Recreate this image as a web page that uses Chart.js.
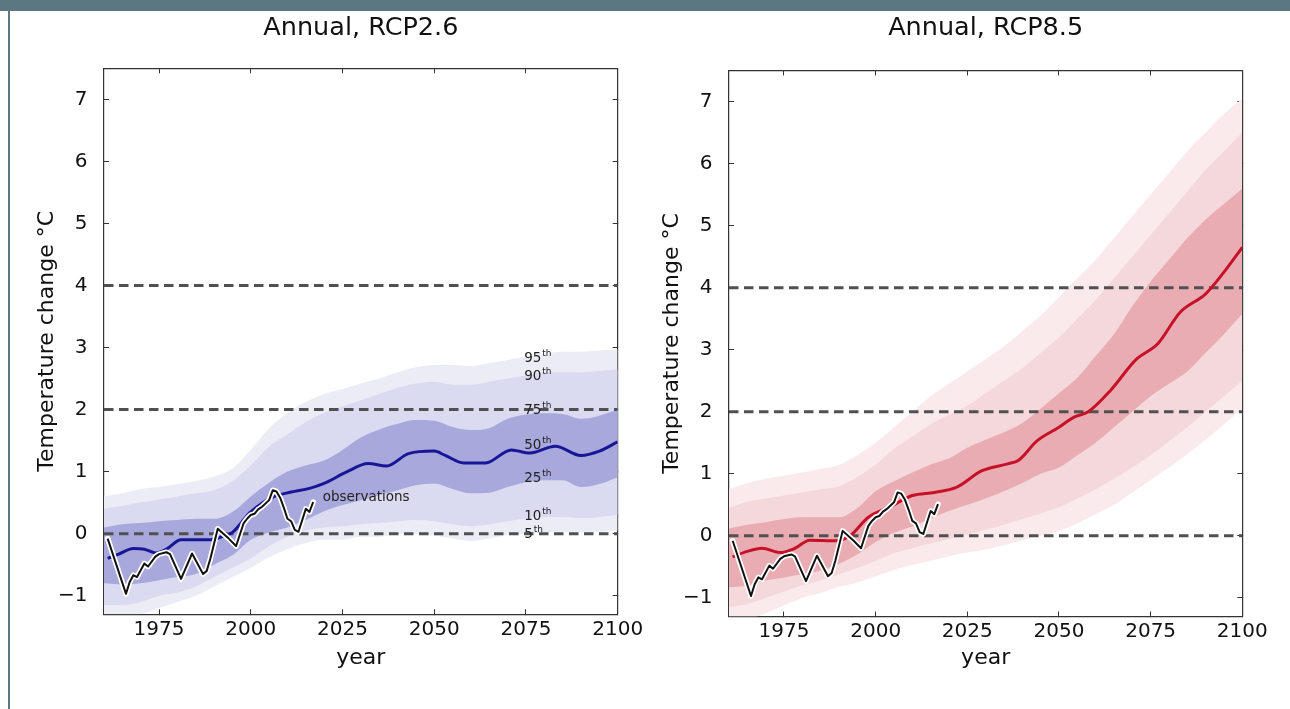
<!DOCTYPE html>
<html>
<head>
<meta charset="utf-8">
<script src="https://cdn.jsdelivr.net/npm/chart.js@4"></script>
<style>
  body { margin: 0; background: #fff; width: 1290px; height: 709px; overflow: hidden; position: relative; }
  #topbar { position: absolute; left: 0; top: 0; width: 1290px; height: 11px; background: #5b7882; }
  #leftbar { position: absolute; left: 8px; top: 0; width: 2px; height: 709px; background: #5b7882; }
  #c1 { position: absolute; left: 10px; top: 11px; }
  #c2 { position: absolute; left: 650px; top: 11px; }
</style>
</head>
<body>
<div id="topbar"></div>
<div id="leftbar"></div>
<canvas id="c1" width="650" height="698"></canvas>
<canvas id="c2" width="640" height="698"></canvas>
<script>
// ---------- Data ----------

const xTicks = [1975, 2000, 2025, 2050, 2075, 2100];
const yTicks = [-1, 0, 1, 2, 3, 4, 5, 6, 7];
const thresholds = [0, 2, 4];

const bandYears = [1960, 1965, 1970, 1975, 1980, 1985, 1990, 1995, 2000, 2005, 2010, 2015, 2020, 2025, 2030,
                   2035, 2040, 2045, 2050, 2055, 2060, 2065, 2070, 2075, 2080, 2085, 2090, 2095, 2100];

// RCP2.6 percentiles
const rcp26P5  = [-1.35, -1.35, -1.3, -1.2, -1.1, -1.0, -0.85, -0.7, -0.55, -0.38, -0.25, -0.15, -0.1, -0.1, -0.05,
                  -0.05, 0.0, 0.0, -0.03, -0.08, -0.12, -0.08, -0.02, 0.0, 0.02, 0.03, 0.02, 0.03, 0.05];
const rcp26P10 = [-1.15, -1.15, -1.1, -1.0, -0.95, -0.85, -0.7, -0.55, -0.4, -0.2, -0.05, 0.05, 0.1, 0.12, 0.15,
                  0.17, 0.2, 0.22, 0.2, 0.15, 0.12, 0.15, 0.2, 0.25, 0.27, 0.27, 0.25, 0.27, 0.3];
const rcp26P25 = [-0.8, -0.82, -0.8, -0.75, -0.7, -0.65, -0.5, -0.35, -0.1, 0.02, 0.1, 0.22, 0.36, 0.46, 0.54,
                  0.62, 0.7, 0.78, 0.81, 0.72, 0.65, 0.66, 0.75, 0.83, 0.86, 0.86, 0.75, 0.8, 0.91];
const rcp26P75 = [0.1, 0.15, 0.17, 0.2, 0.22, 0.24, 0.24, 0.35, 0.6, 0.82, 1.0, 1.1, 1.18, 1.35, 1.55,
                  1.68, 1.77, 1.83, 1.82, 1.72, 1.67, 1.7, 1.85, 1.92, 1.94, 1.93, 1.85, 1.9, 2.0];
const rcp26P90 = [0.4, 0.45, 0.5, 0.55, 0.6, 0.65, 0.7, 0.85, 1.1, 1.4, 1.6, 1.8, 1.95, 2.05, 2.15,
                  2.25, 2.35, 2.42, 2.45, 2.4, 2.4, 2.45, 2.5, 2.55, 2.6, 2.6, 2.6, 2.62, 2.65];
const rcp26P95 = [0.6, 0.65, 0.72, 0.75, 0.8, 0.85, 0.92, 1.05, 1.35, 1.7, 1.95, 2.12, 2.25, 2.33, 2.42,
                  2.5, 2.6, 2.68, 2.72, 2.72, 2.7, 2.75, 2.8, 2.85, 2.9, 2.93, 2.93, 2.95, 2.97];
const rcp26MedYears = [1961, 1964, 1968, 1971, 1974, 1977, 1981, 1985, 1989, 1992, 1995, 2000, 2006, 2011, 2016,
                       2020, 2026, 2032, 2037, 2043, 2050, 2053, 2058, 2064, 2071, 2076, 2083, 2090, 2095, 2100];
const rcp26Median = [-0.4, -0.33, -0.24, -0.25, -0.31, -0.25, -0.1, -0.1, -0.1, -0.05, 0.02, 0.35, 0.59, 0.67, 0.73,
                     0.81, 0.99, 1.13, 1.09, 1.29, 1.33, 1.26, 1.14, 1.14, 1.35, 1.3, 1.41, 1.26, 1.33, 1.48];

// RCP8.5 percentiles
const rcp85P5  = [-1.4, -1.35, -1.25, -1.12, -1.0, -0.92, -0.82, -0.75, -0.65, -0.55, -0.47, -0.4, -0.33, -0.27, -0.22,
                  -0.15, -0.07, 0.0, 0.08, 0.2, 0.35, 0.5, 0.7, 0.9, 1.1, 1.32, 1.55, 1.8, 2.05];
const rcp85P10 = [-1.15, -1.1, -1.0, -0.9, -0.8, -0.72, -0.62, -0.52, -0.4, -0.28, -0.2, -0.12, -0.05, 0.02, 0.1,
                  0.18, 0.27, 0.36, 0.46, 0.6, 0.75, 0.92, 1.1, 1.3, 1.52, 1.75, 2.0, 2.25, 2.5];
const rcp85P25 = [-0.83, -0.8, -0.72, -0.67, -0.62, -0.56, -0.45, -0.3, -0.1, 0.05, 0.15, 0.28, 0.4, 0.5, 0.6,
                  0.72, 0.85, 1.0, 1.1, 1.3, 1.5, 1.75, 2.0, 2.25, 2.45, 2.65, 2.95, 3.25, 3.58];
const rcp85P75 = [0.12, 0.18, 0.22, 0.27, 0.3, 0.3, 0.3, 0.45, 0.72, 0.88, 1.02, 1.15, 1.25, 1.42, 1.55,
                  1.67, 1.82, 2.05, 2.3, 2.55, 2.9, 3.25, 3.7, 4.1, 4.45, 4.8, 5.1, 5.35, 5.6];
const rcp85P90 = [0.45, 0.55, 0.6, 0.65, 0.7, 0.75, 0.8, 0.95, 1.15, 1.4, 1.6, 1.8, 1.95, 2.1, 2.3,
                  2.5, 2.7, 2.95, 3.2, 3.5, 3.8, 4.15, 4.5, 4.85, 5.2, 5.55, 5.9, 6.2, 6.5];
const rcp85P95 = [0.75, 0.85, 0.92, 0.97, 1.02, 1.08, 1.14, 1.3, 1.5, 1.75, 2.0, 2.25, 2.45, 2.65, 2.85,
                  3.05, 3.3, 3.55, 3.85, 4.15, 4.45, 4.8, 5.15, 5.5, 5.85, 6.2, 6.5, 6.8, 7.05];
const rcp85MedYears = [1961, 1965, 1969, 1974, 1978, 1982, 1989, 1993, 1998, 2004, 2010, 2016, 2022, 2029,
                       2036, 2039, 2044, 2050, 2054, 2058, 2064, 2071, 2077, 2083, 2090, 2095, 2100];
const rcp85Median = [-0.34, -0.25, -0.2, -0.27, -0.2, -0.07, -0.08, 0.0, 0.3, 0.47, 0.65, 0.7, 0.78, 1.05,
                     1.16, 1.22, 1.53, 1.75, 1.91, 2.0, 2.34, 2.84, 3.1, 3.6, 3.9, 4.25, 4.65];

// observations
const obsYears = [1961, 1966, 1967, 1968, 1969, 1971, 1972, 1974, 1975, 1977, 1978, 1981, 1984, 1987, 1988, 1989,
                  1991, 1994, 1996, 1998, 1999, 2000, 2001, 2002, 2003, 2005, 2006, 2007, 2008, 2009, 2010, 2011,
                  2012, 2013, 2015, 2016, 2017];
const obsValues = [-0.08, -0.97, -0.78, -0.67, -0.7, -0.48, -0.53, -0.37, -0.33, -0.3, -0.33, -0.73, -0.32, -0.65, -0.6, -0.4,
                   0.08, -0.08, -0.2, 0.16, 0.24, 0.3, 0.32, 0.39, 0.43, 0.54, 0.7, 0.68, 0.58, 0.42, 0.24, 0.2,
                   0.06, 0.03, 0.4, 0.35, 0.51];

// percentile annotations (left panel)
const pctNames = ["95", "90", "75", "50", "25", "10", "5"];
const pctValues = [2.82, 2.53, 1.99, 1.42, 0.89, 0.27, -0.01];
const pctYear = 2074.5;
const obsLabelPos = [2019.6, 0.575];

// ---------- Helpers ----------

const FONT = "'DejaVu Sans', sans-serif";

function pts(xs, ys) {
    return xs.map((x, i) => ({x: x, y: ys[i]}));
}

function minusSign(v) {
    return String(v).replace("-", "\u2212");
}

const labelPlugin = {
    id: "pctLabels",
    afterDatasetsDraw(chart) {
        if (!chart.options.plugins.pctLabels.show) return;
        const ctx = chart.ctx;
        const x = chart.scales.x, y = chart.scales.y;
        ctx.save();
        ctx.fillStyle = "#222";
        ctx.textAlign = "left";
        ctx.textBaseline = "middle";
        pctNames.forEach((n, i) => {
            const px = x.getPixelForValue(pctYear);
            const py = y.getPixelForValue(pctValues[i]);
            ctx.font = "13.5px " + FONT;
            ctx.fillText(n, px, py);
            const w = ctx.measureText(n).width;
            ctx.font = "9px " + FONT;
            ctx.fillText("th", px + w + 1, py - 5);
        });
        ctx.font = "13.5px " + FONT;
        ctx.fillText("observations", x.getPixelForValue(obsLabelPos[0]), y.getPixelForValue(obsLabelPos[1]));
        ctx.restore();
    }
};

function createPanel(canvasId, title, bands, medYears, median, colors, geo, showLabels) {

    const datasets = [
        {data: pts(bandYears, bands[5]), fill: 1, backgroundColor: colors.outer, borderWidth: 0, order: 10},
        {data: pts(bandYears, bands[0]), fill: false, borderWidth: 0, order: 10},
        {data: pts(bandYears, bands[4]), fill: 3, backgroundColor: colors.mid, borderWidth: 0, order: 9},
        {data: pts(bandYears, bands[1]), fill: false, borderWidth: 0, order: 9},
        {data: pts(bandYears, bands[3]), fill: 5, backgroundColor: colors.inner, borderWidth: 0, order: 8},
        {data: pts(bandYears, bands[2]), fill: false, borderWidth: 0, order: 8}
    ];

    thresholds.forEach(t => {
        datasets.push({
            data: [{x: 1960, y: t}, {x: 2100, y: t}],
            borderColor: "#505050", borderWidth: 3, borderDash: [9.5, 5.5], fill: false, order: 3
        });
    });

    datasets.push({data: pts(medYears, median), borderColor: colors.line, borderWidth: 3, fill: false,
                   cubicInterpolationMode: "monotone", borderJoinStyle: "round", order: 2});
    datasets.push({data: pts(obsYears, obsValues), borderColor: "#ffffff", borderWidth: 5.5, fill: false,
                   cubicInterpolationMode: "default", tension: 0, borderJoinStyle: "round",
                   borderCapStyle: "round", order: 1});
    datasets.push({data: pts(obsYears, obsValues), borderColor: "#111111", borderWidth: 2, fill: false,
                   cubicInterpolationMode: "default", tension: 0, borderJoinStyle: "round", order: 0});

    const setX = s => { s.ticks = xTicks.map(v => ({value: v})); };
    const setY = s => { s.ticks = yTicks.map(v => ({value: v})); };
    const axisGrid = {drawOnChartArea: false, drawTicks: true, tickLength: -5, color: "#333", lineWidth: 1};
    const axisBorder = {display: true, color: "#333", width: 1.2};

    return new Chart(document.getElementById(canvasId), {
        type: "line",
        data: {datasets: datasets},
        options: {
            responsive: false,
            devicePixelRatio: 1,
            animation: false,
            events: [],
            layout: {padding: {left: 0, right: geo.padRight, top: 0, bottom: 0}},
            elements: {point: {radius: 0}, line: {cubicInterpolationMode: "monotone"}},
            plugins: {
                legend: {display: false},
                tooltip: {enabled: false},
                pctLabels: {show: showLabels},
                title: {
                    display: true,
                    fullSize: false,
                    text: title,
                    color: "#111",
                    font: {family: FONT, size: 25.5, weight: "normal"},
                    padding: {top: geo.titleTop, bottom: geo.titleBottom}
                }
            },
            scales: {
                x: {
                    type: "linear", position: "bottom", min: 1960, max: 2100,
                    afterBuildTicks: setX,
                    afterFit: s => { s.height = geo.xHeight; s.paddingLeft = 0; s.paddingRight = 0; },
                    ticks: {color: "#111", font: {family: FONT, size: 20}, padding: 8.7, maxRotation: 0,
                            callback: v => String(v)},
                    grid: axisGrid, border: axisBorder,
                    title: {display: true, text: "year", color: "#111", font: {family: FONT, size: 22},
                            padding: {top: 0, bottom: geo.xTitlePad}}
                },
                x2: {
                    type: "linear", position: "top", min: 1960, max: 2100,
                    afterBuildTicks: setX,
                    afterFit: s => { s.height = 0; s.paddingLeft = 0; s.paddingRight = 0; },
                    ticks: {display: false},
                    grid: axisGrid, border: axisBorder
                },
                y: {
                    type: "linear", position: "left", min: -1.3, max: 7.5,
                    afterBuildTicks: setY,
                    afterFit: s => { s.width = geo.yWidth; s.paddingTop = 0; s.paddingBottom = 0; },
                    ticks: {color: "#111", font: {family: FONT, size: 20}, padding: 21.5,
                            callback: v => minusSign(v)},
                    grid: axisGrid, border: axisBorder,
                    title: {display: true, text: "Temperature change \u00b0C", color: "#111",
                            font: {family: FONT, size: 22}, padding: {top: geo.yTitlePad, bottom: 0}}
                },
                y2: {
                    type: "linear", position: "right", min: -1.3, max: 7.5,
                    afterBuildTicks: setY,
                    afterFit: s => { s.width = 0; s.paddingTop = 0; s.paddingBottom = 0; },
                    ticks: {display: false},
                    grid: axisGrid, border: axisBorder
                }
            }
        },
        plugins: [labelPlugin]
    });
}

// -------- Create Charts --------

const leftChart = createPanel("c1", "Annual, RCP2.6",
    [rcp26P5, rcp26P10, rcp26P25, rcp26P75, rcp26P90, rcp26P95], rcp26MedYears, rcp26Median,
    {outer: "rgb(236,236,247)", mid: "rgb(218,218,240)", inner: "rgb(168,168,220)", line: "rgb(22,22,150)"},
    {padRight: 42.3, titleTop: 2, titleBottom: 24.7, xHeight: 94.7, yWidth: 94, xTitlePad: 37.8, yTitlePad: 23.8},
    true);

const rightChart = createPanel("c2", "Annual, RCP8.5",
    [rcp85P5, rcp85P10, rcp85P25, rcp85P75, rcp85P90, rcp85P95], rcp85MedYears, rcp85Median,
    {outer: "rgb(250,234,236)", mid: "rgb(245,216,219)", inner: "rgb(232,172,178)", line: "rgb(198,18,40)"},
    {padRight: 47.7, titleTop: 2, titleBottom: 26.9, xHeight: 92.5, yWidth: 79, xTitlePad: 37.8, yTitlePad: 8.8},
    false);
</script>
</body>
</html>
